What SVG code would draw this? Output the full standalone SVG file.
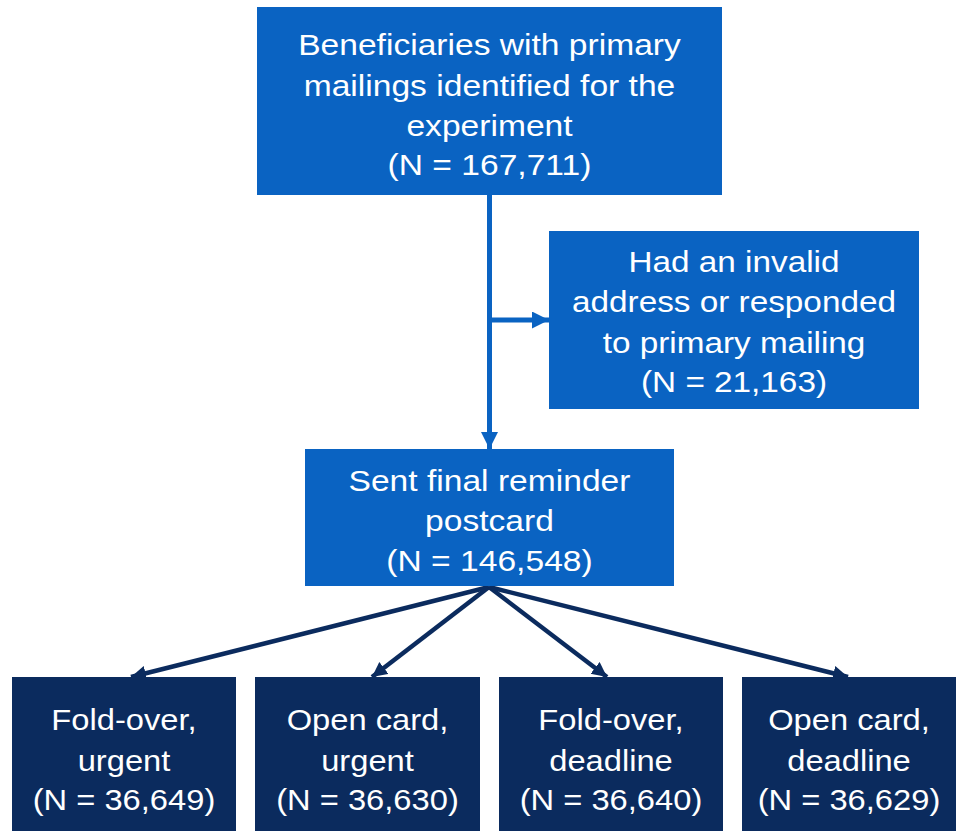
<svg xmlns="http://www.w3.org/2000/svg" width="956" height="831" viewBox="0 0 956 831">
<style>
.blue{fill:#0a63c2}
.dark{fill:#0b2b5e}
.t{font-family:"Liberation Sans",Arial,sans-serif;font-size:30px;fill:#ffffff;text-anchor:middle}
.cb{stroke:#0a63c2;stroke-width:5;fill:none}
.cd{stroke:#0b2b5e;stroke-width:4.5;fill:none}
</style>
<defs>
<marker id="ab" markerUnits="userSpaceOnUse" markerWidth="18" markerHeight="18" refX="17" refY="8.5" orient="auto">
<path d="M0,0 L17,8.5 L0,17 z" fill="#0a63c2"/>
</marker>
<marker id="ad" markerUnits="userSpaceOnUse" markerWidth="16" markerHeight="16" refX="15" refY="7.5" orient="auto">
<path d="M0,0 L15,7.5 L0,15 z" fill="#0b2b5e"/>
</marker>
</defs>
<rect width="956" height="831" fill="#ffffff"/>
<g id="connectors">
<line class="cb" x1="489.5" y1="195" x2="489.5" y2="449" marker-end="url(#ab)"/>
<line class="cb" x1="489.5" y1="320" x2="549" y2="320" marker-end="url(#ab)"/>
<line class="cd" x1="489" y1="587" x2="131" y2="677" marker-end="url(#ad)"/>
<line class="cd" x1="489" y1="587" x2="372" y2="677" marker-end="url(#ad)"/>
<line class="cd" x1="489" y1="587" x2="607" y2="677" marker-end="url(#ad)"/>
<line class="cd" x1="489" y1="587" x2="848" y2="677" marker-end="url(#ad)"/>
</g>
<g id="node-beneficiaries">
<rect class="blue" x="257" y="7" width="465" height="188"/>
<text class="t" transform="translate(489.5,0) scale(1.12,1)"><tspan x="0" y="55">Beneficiaries with primary</tspan><tspan x="0" y="96">mailings identified for the</tspan><tspan x="0" y="136">experiment</tspan><tspan x="0" y="175">(N = 167,711)</tspan></text>
</g>
<g id="node-invalid">
<rect class="blue" x="549" y="231" width="370" height="178"/>
<text class="t" transform="translate(734,0) scale(1.11,1)"><tspan x="0" y="272">Had an invalid</tspan><tspan x="0" y="312">address or responded</tspan><tspan x="0" y="353">to primary mailing</tspan><tspan x="0" y="392">(N = 21,163)</tspan></text>
</g>
<g id="node-sent">
<rect class="blue" x="305" y="449" width="369" height="137"/>
<text class="t" transform="translate(489.5,0) scale(1.12,1)"><tspan x="0" y="491">Sent final reminder</tspan><tspan x="0" y="531">postcard</tspan><tspan x="0" y="571">(N = 146,548)</tspan></text>
</g>
<g id="node-fold-urgent">
<rect class="dark" x="12" y="677" width="224" height="154"/>
<text class="t" transform="translate(124,0) scale(1.09,1)"><tspan x="0" y="730">Fold-over,</tspan><tspan x="0" y="771">urgent</tspan><tspan x="0" y="810">(N = 36,649)</tspan></text>
</g>
<g id="node-open-urgent">
<rect class="dark" x="255" y="677" width="225" height="154"/>
<text class="t" transform="translate(367.5,0) scale(1.09,1)"><tspan x="0" y="730">Open card,</tspan><tspan x="0" y="771">urgent</tspan><tspan x="0" y="810">(N = 36,630)</tspan></text>
</g>
<g id="node-fold-deadline">
<rect class="dark" x="499" y="677" width="224" height="154"/>
<text class="t" transform="translate(611,0) scale(1.09,1)"><tspan x="0" y="730">Fold-over,</tspan><tspan x="0" y="771">deadline</tspan><tspan x="0" y="810">(N = 36,640)</tspan></text>
</g>
<g id="node-open-deadline">
<rect class="dark" x="742" y="677" width="214" height="154"/>
<text class="t" transform="translate(849,0) scale(1.09,1)"><tspan x="0" y="730">Open card,</tspan><tspan x="0" y="771">deadline</tspan><tspan x="0" y="810">(N = 36,629)</tspan></text>
</g>
</svg>
